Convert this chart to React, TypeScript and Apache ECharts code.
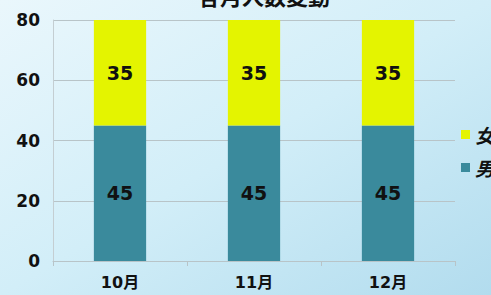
import React, { useEffect, useRef } from "react";
import * as echarts from "echarts";

const categories = ["10月", "11月", "12月"];
const maleValues = [45, 45, 45];
const femaleValues = [35, 35, 35];
const yTicks = { min: 0, max: 80, interval: 20 };
const titleText = "各月人数変動";

export default function App() {
  const ref = useRef<HTMLDivElement>(null);
  useEffect(() => {
    const chart = echarts.init(ref.current!, null, { renderer: "svg" });
    const font = "'DejaVu Sans', 'Noto Sans CJK JP', sans-serif";
    chart.setOption({
      animation: false,
      backgroundColor: {
        type: "linear",
        x: 0, y: 0, x2: 1, y2: 1,
        colorStops: [
          { offset: 0, color: "#eaf7fc" },
          { offset: 0.5, color: "#d2eef8" },
          { offset: 1, color: "#b2dcee" },
        ],
      },
      title: {
        text: titleText,
        left: 259,
        textAlign: "center",
        top: -21,
        textStyle: { fontSize: 22, fontWeight: "bold", color: "#111", fontFamily: "'Noto Sans CJK JP', sans-serif" },
      },
      legend: {
        orient: "vertical",
        left: 456,
        top: 120,
        itemGap: 14,
        itemWidth: 9,
        itemHeight: 9,
        icon: "rect",
        data: ["女", "男"],
        textStyle: { fontSize: 19, fontWeight: "bold", fontStyle: "italic", color: "#111", fontFamily: "'Noto Sans CJK JP', sans-serif" },
      },
      grid: { left: 53, right: 36, top: 20, bottom: 34, containLabel: false },
      xAxis: {
        type: "category",
        data: categories,
        axisLine: { lineStyle: { color: "#b8c4c8" } },
        axisTick: { show: true, lineStyle: { color: "#b8c4c8" } },
        axisLabel: { fontSize: 16, fontWeight: "bold", color: "#111", margin: 13, fontFamily: font },
      },
      yAxis: {
        type: "value",
        min: yTicks.min,
        max: yTicks.max,
        interval: yTicks.interval,
        axisLine: { show: true, lineStyle: { color: "#c4ced2" } },
        splitLine: { lineStyle: { color: "#b8c4c8" } },
        axisLabel: { fontSize: 17, fontWeight: "bold", color: "#111", margin: 13, fontFamily: font },
      },
      series: [
        {
          name: "男",
          type: "bar",
          stack: "total",
          data: maleValues,
          barWidth: "39%",
          itemStyle: { color: "#3a8a9c" },
          label: { show: true, position: "inside", fontSize: 19, fontWeight: "bold", color: "#111", fontFamily: font },
        },
        {
          name: "女",
          type: "bar",
          stack: "total",
          data: femaleValues,
          barWidth: "39%",
          itemStyle: { color: "#e4f400" },
          label: { show: true, position: "inside", fontSize: 19, fontWeight: "bold", color: "#111", fontFamily: font },
        },
      ],
    });
    return () => chart.dispose();
  }, []);
  return (
    <div
      ref={ref}
      style={{ position: "absolute", left: 0, top: 0, width: 491, height: 295 }}
    />
  );
}
